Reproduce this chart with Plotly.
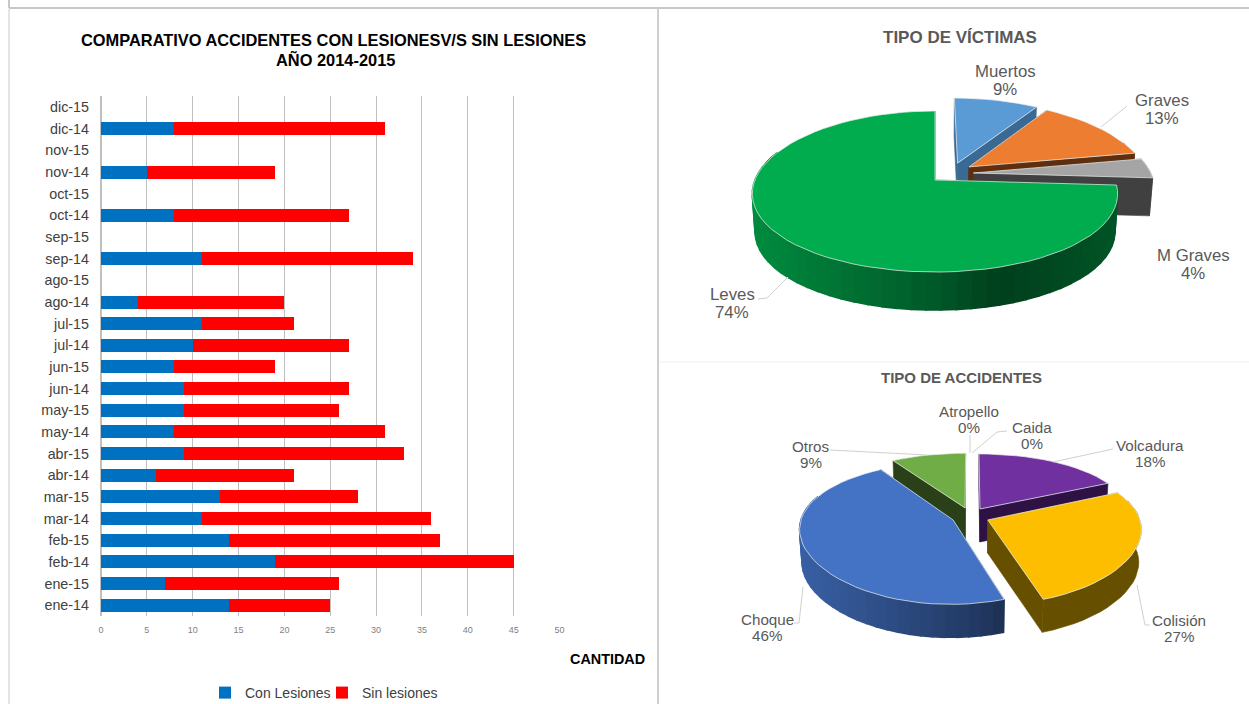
import math
import plotly.graph_objects as go

# ---------- data ----------
months = ["ene-14","ene-15","feb-14","feb-15","mar-14","mar-15","abr-14","abr-15","may-14","may-15",
          "jun-14","jun-15","jul-14","jul-15","ago-14","ago-15","sep-14","sep-15","oct-14","oct-15",
          "nov-14","nov-15","dic-14","dic-15"]
con_lesiones = [14,7,19,14,11,13,6,9,8,9,9,8,10,11,4,0,11,0,8,0,5,0,8,0]
sin_lesiones = [11,19,26,23,25,15,15,24,23,17,18,11,17,10,16,0,23,0,19,0,14,0,23,0]

victimas = ["Muertos","Graves","M Graves","Leves"]
victimas_pct = [9,13,4,74]
accidentes = ["Atropello","Caida","Volcadura","Colisión","Choque","Otros"]
accidentes_pct = [0,0,18,27,46,9]

W, H = 1249, 704
fig = go.Figure()

# ---------- stacked bars ----------
fig.add_trace(go.Bar(y=months, x=con_lesiones, name="Con Lesiones", orientation="h",
                     marker=dict(color="#0070C0", line_width=0), hoverinfo="skip"))
fig.add_trace(go.Bar(y=months, x=sin_lesiones, name="Sin lesiones", orientation="h",
                     marker=dict(color="#FF0000", line_width=0), hoverinfo="skip"))

# ---------- pies with perspective, drawn from the values ----------
def rgb(h):
    return tuple(int(h[i:i+2], 16) for i in (1, 3, 5))

def scaled(h, s):
    return "rgb(%d,%d,%d)" % tuple(min(255, c * s) for c in rgb(h))

def shade(u):
    stops = [(-1.05, .82), (0.0, .52), (.36, .37), (1.05, .5)]
    for (a, sa), (b, sb) in zip(stops, stops[1:]):
        if u <= b:
            return sa + (sb - sa) * (u - a) / (b - a)
    return stops[-1][1]

def poly(pts, color, line=None, lw=.6):
    fig.add_trace(go.Scatter(x=[p[0] for p in pts] + [pts[0][0]], y=[p[1] for p in pts] + [pts[0][1]],
                             mode="lines", fill="toself", fillcolor=color,
                             line=dict(color=line or color, width=lw), xaxis="x2", yaxis="y2",
                             showlegend=False, hoverinfo="skip"))

def draw_pie(values, geom, style):
    cx, cy, rx, b, k, kx, depth = geom
    total = sum(values)
    start = {}
    acc = 0
    for i, v in enumerate(values):
        start[i] = (acc / total * 360, (acc + v) / total * 360)
        acc += v

    def proj(X, Y):
        return (cx + rx * X / (1 + kx * Y), cy - b * Y / (1 + k * Y))

    def drop(p):
        return (cx + (p[0] - cx) * .985, p[1] + depth)

    for i, top_col, wall_col, dX, dY in style:
        a0, a1 = start[i]
        n = max(2, int((a1 - a0) / 4))
        th = [a0 + (a1 - a0) * j / n for j in range(n + 1)]
        arc = [proj(dX + math.sin(math.radians(t)), dY + math.cos(math.radians(t))) for t in th]
        apex = proj(dX, dY)
        wc = wall_col
        if wc is None:
            wc = scaled(top_col, shade((apex[0] - cx) / rx))
        # radial side walls
        for e in (arc[0], arc[-1]):
            poly([apex, e, drop(e), drop(apex)], wc)
        # outer wall
        if wall_col is not None:
            vis = [p for t, p in zip(th, arc) if math.cos(math.radians(t)) < .35]
            if len(vis) > 1:
                poly(vis + [drop(p) for p in reversed(vis)], wc)
        else:
            for t0, t1, p0, p1 in zip(th, th[1:], arc, arc[1:]):
                if math.cos(math.radians(t0)) < .35:
                    c = scaled(top_col, shade(((p0[0] + p1[0]) / 2 - cx) / rx))
                    poly([p0, p1, drop(p1), drop(p0)], c, lw=1.6)
        # top face
        poly([apex] + arc, top_col, line="rgba(235,240,235,.9)", lw=.8)

draw_pie(victimas_pct, (935, 180, 180, 78.9, .143, .17, 38), [
    (0, "#5B9BD5", "#3A6A94", .13, .22),
    (1, "#ED7D31", "#5E2E0E", .194, .17),
    (2, "#A5A5A5", "#404040", .217, .09),
    (3, "#00AC4E", None, 0, 0),
])
draw_pie(accidentes_pct, (970, 512, 150, 66, .18, .12, 33), [
    (5, "#70AD47", "#2A4018", -.033, .062),
    (2, "#7030A0", "#2E1245", .067, .046),
    (3, "#FDBE00", "#665000", .117, -.118),
    (4, "#4472C4", None, -.111, -.118),
])

# leader lines
leaders = [
    [(1101,127),(1127,106)], [(788,277),(767,298),(758,299)],
    [(830,450),(927,455)], [(970,435),(970,453)], [(1007,431),(997,432),(972,453)],
    [(1113,449),(1053,462)], [(1150,625),(1145,625),(1137,585)], [(794,623),(799,623),(803,587)],
]
for l in leaders:
    fig.add_trace(go.Scatter(x=[p[0] for p in l], y=[p[1] for p in l], mode="lines",
                             line=dict(color="#D0D0D0", width=1), xaxis="x2", yaxis="y2",
                             showlegend=False, hoverinfo="skip"))

# ---------- text ----------
ann = []
def text(x, y, s, size, color="#595959", bold=False):
    ann.append(dict(xref="x2", yref="y2", x=x, y=y, text=f"<b>{s}</b>" if bold else s, showarrow=False,
                    xanchor="center", yanchor="middle",
                    font=dict(family="Liberation Sans", size=size, color=color)))

label_pos_v = {"Muertos":(1005,71,89), "Graves":(1162,100,118), "M Graves":(1193,255,273), "Leves":(732,294,312)}
for n, v in zip(victimas, victimas_pct):
    x, y0, y1 = label_pos_v[n]
    text(x, y0, n, 16.8)
    text(x, y1, f"{v}%", 16.8)
label_pos_a = {"Atropello":(969,411,427), "Caida":(1032,427,443), "Otros":(811,446,462),
               "Volcadura":(1150,445,461), "Colisión":(1179,620,636), "Choque":(767,619,635)}
for n, v in zip(accidentes, accidentes_pct):
    x, y0, y1 = label_pos_a[n]
    text(x, y0, n, 15.2)
    text(x, y1, f"{v}%", 15.2)

text(333, 40, "COMPARATIVO ACCIDENTES CON LESIONESV/S SIN LESIONES", 16.4, "#000000", True)
text(335, 59, "AÑO 2014-2015", 16.4, "#000000", True)
text(607, 659, "CANTIDAD", 14.4, "#000000", True)
text(960, 37, "TIPO DE VÍCTIMAS", 17, "#595959", True)
text(961, 377, "TIPO DE ACCIDENTES", 15, "#595959", True)

# ---------- panel rules ----------
def rule(x0, y0, x1, y1, c, w):
    return dict(type="line", xref="paper", yref="paper", x0=x0/W, x1=x1/W, y0=1-y0/H, y1=1-y1/H,
                line=dict(color=c, width=w), layer="below")
shapes = [
    rule(9, 9, 9, 704, "#E4E4E4", 2),
    rule(9, 8, 1249, 8, "#C8C8C8", 2),
    rule(9, 0, 9, 8, "#C8C8C8", 2),
    rule(658, 8, 658, 704, "#CFCFCF", 2),
    rule(659, 362, 1249, 362, "#F0F0F0", 1),
]

fig.update_layout(
    width=W, height=H, autosize=False, margin=dict(l=0, r=0, t=0, b=0, autoexpand=False),
    paper_bgcolor="white", plot_bgcolor="rgba(0,0,0,0)", barmode="stack", bargap=.4,
    font=dict(family="Liberation Sans"),
    annotations=ann, shapes=shapes,
    xaxis=dict(domain=[101/W, 559.5/W], range=[0, 50], dtick=5, tick0=0, showgrid=True, gridcolor="#BFBFBF",
               gridwidth=1, zeroline=True, zerolinecolor="#BFBFBF", showline=False, ticks="", anchor="y",
               ticklabelstandoff=7, tickfont=dict(size=9, color="#7F7F7F")),
    yaxis=dict(domain=[1-616/H, 1-96.3/H], type="category", categoryorder="array", categoryarray=months,
               showgrid=False, ticks="", ticklen=0, anchor="x", showline=False, ticklabelstandoff=11,
               tickfont=dict(size=14.3, color="#404040")),
    xaxis2=dict(domain=[0, 1], range=[0, W], visible=False, anchor="y2", fixedrange=True),
    yaxis2=dict(domain=[0, 1], range=[H, 0], visible=False, anchor="x2", fixedrange=True),
    legend=dict(orientation="h", x=205/W, xanchor="left", y=1-693/H, yanchor="middle",
                font=dict(size=14, color="#404040"), bgcolor="rgba(0,0,0,0)", traceorder="normal",
                itemwidth=30, entrywidth=72, entrywidthmode="pixels"),
)
fig.write_html("out.html", config={"displayModeBar": False},
               post_script="document.body.style.margin='0';document.body.style.overflow='hidden';")
